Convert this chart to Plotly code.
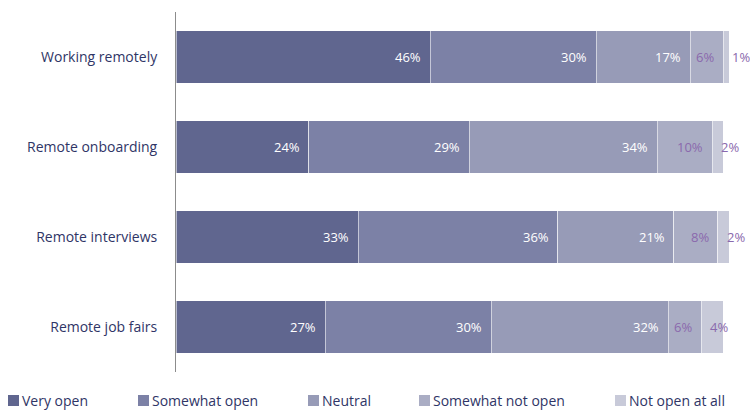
import plotly.graph_objects as go

# Survey results: openness to remote hiring practices (percent of respondents)
categories = ["Working remotely", "Remote onboarding", "Remote interviews", "Remote job fairs"]
series_names = ["Very open", "Somewhat open", "Neutral", "Somewhat not open", "Not open at all"]
very_open = [46, 24, 33, 27]
somewhat_open = [30, 29, 36, 30]
neutral = [17, 34, 21, 32]
somewhat_not_open = [6, 10, 8, 6]
not_open_at_all = [1, 2, 2, 4]

series_values = [very_open, somewhat_open, neutral, somewhat_not_open, not_open_at_all]
colors = ["#60668f", "#7c81a6", "#979bb7", "#aaadc4", "#c8cad9"]
label_colors = ["#ffffff", "#ffffff", "#ffffff", "#8a69ad", "#8a69ad"]

FONT = "Open Sans"
W, H = 750, 412
M_L, M_R, M_T, M_B = 176, 21, 12, 40
PLOT_W = W - M_L - M_R
PLOT_H = H - M_T - M_B

fig = go.Figure()
for name, vals, col in zip(series_names, series_values, colors):
    fig.add_trace(go.Bar(
        y=categories, x=vals, name=name, orientation="h",
        marker=dict(color=col, line=dict(color="rgba(255,255,255,0.55)", width=1)),
        showlegend=False, hoverinfo="x+name",
    ))

# Value labels: right-aligned near each segment end; the last series sits just past its start
annotations = []
for ci, cat in enumerate(categories):
    cum = 0
    for si, vals in enumerate(series_values):
        v = vals[ci]
        start, end = cum, cum + v
        cum = end
        if si < len(series_values) - 1:
            annotations.append(dict(
                x=end, y=cat, xref="x", yref="y", text=f"{v}%", showarrow=False,
                xanchor="right", xshift=-7, yanchor="middle",
                font=dict(family=FONT, size=13, color=label_colors[si]),
            ))
        else:
            annotations.append(dict(
                x=start, y=cat, xref="x", yref="y", text=f"{v}%", showarrow=False,
                xanchor="left", xshift=7, yanchor="middle",
                font=dict(family=FONT, size=13, color=label_colors[si]),
            ))

# Legend drawn as colored squares with captions along the bottom
legend_px = [8, 138, 308, 419, 615]
shapes = []
bottom_px = H - M_B
for name, col, px in zip(series_names, colors, legend_px):
    shapes.append(dict(type="rect", xref="paper", yref="paper",
                       x0=(px - M_L) / PLOT_W, x1=(px + 11 - M_L) / PLOT_W,
                       y0=-(406 - bottom_px) / PLOT_H, y1=-(395 - bottom_px) / PLOT_H,
                       fillcolor=col, line=dict(width=0)))
    annotations.append(dict(
        x=(px + 12 - M_L) / PLOT_W, y=-(400 - bottom_px) / PLOT_H,
        xref="paper", yref="paper", text=name, showarrow=False,
        xanchor="left", yanchor="middle",
        font=dict(family=FONT, size=14, color="#2f3566"),
    ))

fig.update_layout(
    barmode="stack",
    bargap=0.42,
    width=W, height=H,
    margin=dict(l=M_L, r=M_R, t=M_T, b=M_B),
    paper_bgcolor="white", plot_bgcolor="white",
    font=dict(family=FONT, size=14, color="#2f3566"),
    xaxis=dict(range=[0, 100], visible=False, fixedrange=True),
    yaxis=dict(
        autorange="reversed", showline=True, linecolor="#8c8c8c", linewidth=1,
        showgrid=False, ticks="", ticklabelstandoff=15,
        tickfont=dict(family=FONT, size=14, color="#2f3566"),
    ),
    annotations=annotations,
    shapes=shapes,
)

fig.write_html("out.html")
